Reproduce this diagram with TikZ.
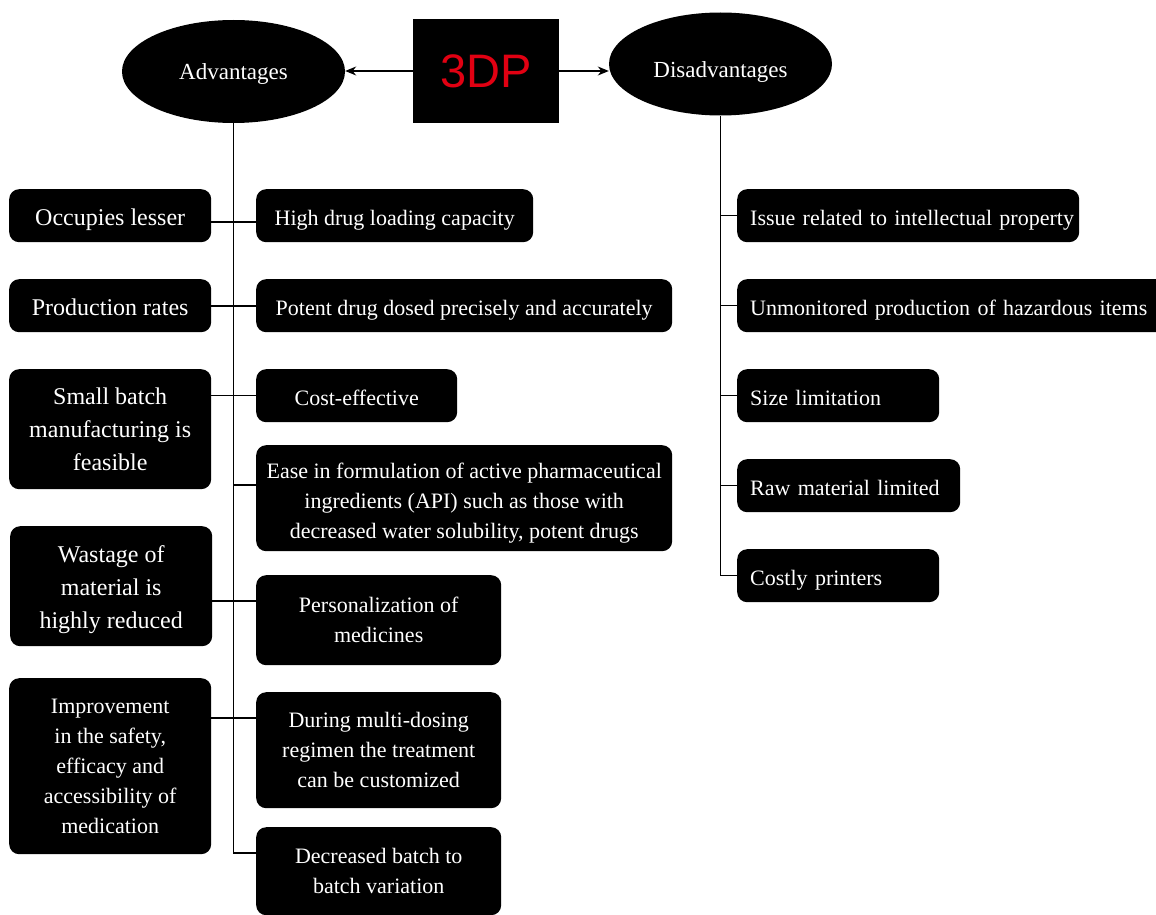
\documentclass[tikz,border=0pt]{standalone}
\usepackage{fontspec}
\setmainfont{Liberation Serif}
\newfontfamily\tdpfont{Liberation Sans}
\usetikzlibrary{shapes.geometric,arrows.meta}
\definecolor{tdpred}{RGB}{225,0,18}
\newcommand\fbig{\fontsize{24}{33}\selectfont}
\newcommand\fmid{\fontsize{22}{30}\selectfont}
\newcommand\dnshift[2]{\raisebox{-#1}[\height][\depth]{\begin{tabular}{@{}c@{}}#2\end{tabular}}}
\tikzset{
  bx/.style={fill=black, rounded corners=10, text=white, inner sep=0pt, anchor=north west, align=center, font=\fmid},
  one/.style={text height=19pt, text depth=0pt},
  dbx/.style={fill=black, rounded corners=10, text=white, inner ysep=0pt, inner xsep=13pt, anchor=north west, align=left, font=\fmid, one},
  ell/.style={ellipse, fill=black, text=white, inner sep=0pt, minimum width=223, minimum height=103, text depth=0pt, font=\fontsize{23}{28}\selectfont},
  conn/.style={line width=1.2pt, draw=black},
  arr/.style={conn, -{Stealth[length=11pt,width=9pt]}}
}
\begin{document}
\begin{tikzpicture}[x=1pt,y=-1pt]
\useasboundingbox (0,0) rectangle (1156,915);
\clip (0,0) rectangle (1156,915);
% top
\node[ell, text height=16pt] (adv) at (233.5,71.5) {Advantages};
\node[ell, text height=28pt] (dis) at (720.5,64) {Disadvantages};
\node[fill=black, minimum width=146, minimum height=104, inner sep=0pt, text=tdpred, font=\tdpfont\fontsize{47}{50}\selectfont] (tdp) at (486,71) {3DP};
\draw[arr] (tdp.west) -- (adv.east |- tdp.west);
\draw[arr] (tdp.east) -- (tdp.east -| dis.west);
% left column
\node[bx, one, font=\fbig, minimum width=202, minimum height=53] (l1) at (9,189) {Occupies lesser};
\node[bx, one, font=\fbig, minimum width=202, minimum height=53] (l2) at (9,279) {Production rates};
\node[bx, font=\fbig, minimum width=202, minimum height=120] (l3) at (9,369) {Small batch\\manufacturing is\\feasible};
\node[bx, font=\fbig, minimum width=202, minimum height=120] (l4) at (10,526) {\dnshift{3pt}{Wastage of\\material is\\highly reduced}};
\node[bx, minimum width=202, minimum height=176] (l5) at (9,678) {Improvement\\in the safety,\\efficacy and\\accessibility of\\medication};
% right column
\node[bx, one, minimum width=277, minimum height=53] (r1) at (256,189) {High drug loading capacity};
\node[bx, one, minimum width=416, minimum height=53] (r2) at (256,279) {Potent drug dosed precisely and accurately};
\node[bx, one, minimum width=201, minimum height=53] (r3) at (256,369) {Cost-effective};
\node[bx, minimum width=416, minimum height=106] (r4) at (256,445) {\dnshift{4pt}{Ease in formulation of active pharmaceutical\\ingredients (API) such as those with\\decreased water solubility, potent drugs}};
\node[bx, minimum width=245, minimum height=90] (r5) at (256,575) {Personalization of\\medicines};
\node[bx, minimum width=245, minimum height=116] (r6) at (256,692) {During multi-dosing\\regimen the treatment\\can be customized};
\node[bx, minimum width=245, minimum height=88] (r7) at (256,827) {Decreased batch to\\batch variation};
% disadvantages
\node[dbx, text width=316, minimum height=53] (d1) at (737,189) {\mbox{Issue related to intellectual property}};
\node[dbx, text width=414, minimum height=53] (d2) at (737,279) {\mbox{Unmonitored production of hazardous items}};
\node[dbx, text width=176, minimum height=53] (d3) at (737,369) {\mbox{Size limitation}};
\node[dbx, text width=197, minimum height=53] (d4) at (737,459) {\mbox{Raw material limited}};
\node[dbx, text width=176, minimum height=53] (d5) at (737,549) {\mbox{Costly printers}};
% advantages tree
\coordinate (aend) at (adv.south |- 0,853);
\draw[conn] (adv.south) -- (aend) -- (aend -| r7.west);
\draw[conn] (l1.east |- 0,222) -- (r1.west |- 0,222);
\draw[conn] (l2.east |- 0,306) -- (r2.west |- 0,306);
\draw[conn] (r3.west -| l3.east) -- (r3.west);
\draw[conn] (adv.south |- 0,485) -- (r4.west |- 0,485);
\draw[conn] (l4.east |- 0,601) -- (r5.west |- 0,601);
\draw[conn] (l5.east |- 0,718) -- (r6.west |- 0,718);
% disadvantages tree
\draw[conn] (dis.south) -- (dis.south |- d5.west) -- (d5.west);
\foreach \d in {d1,d2,d3,d4} \draw[conn] (\d.west -| dis.south) -- (\d.west);
\end{tikzpicture}
\end{document}
